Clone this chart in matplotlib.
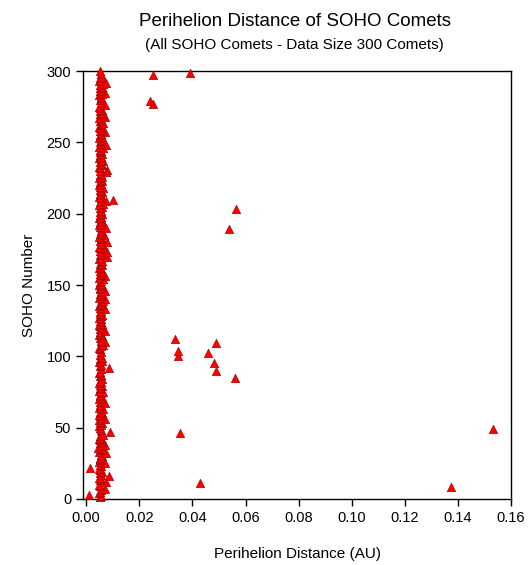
import matplotlib
matplotlib.use("Agg")
import matplotlib.pyplot as plt

plt.rcParams['font.family'] = ['Liberation Sans', 'DejaVu Sans']

# perihelion distance (AU) for SOHO numbers 1..300
perihelion = [
    0.0050, 0.0055, 0.0010, 0.0048, 0.0052, 0.0057, 0.0070, 0.1374, 0.0053, 0.0049,
    0.0428, 0.0075, 0.0051, 0.0056, 0.0047, 0.0085, 0.0054, 0.0050, 0.0058, 0.0052,
    0.0049, 0.0016, 0.0055, 0.0051, 0.0072, 0.0048, 0.0057, 0.0053, 0.0050, 0.0061,
    0.0054, 0.0075, 0.0049, 0.0052, 0.0058, 0.0046, 0.0055, 0.0072, 0.0051, 0.0059,
    0.0053, 0.0048, 0.0056, 0.0050, 0.0062, 0.0355, 0.0090, 0.0054, 0.1533, 0.0051,
    0.0047, 0.0055, 0.0060, 0.0052, 0.0049, 0.0070, 0.0056, 0.0053, 0.0048, 0.0058,
    0.0051, 0.0054, 0.0062, 0.0049, 0.0057, 0.0052, 0.0070, 0.0050, 0.0055, 0.0047,
    0.0059, 0.0053, 0.0050, 0.0056, 0.0064, 0.0048, 0.0054, 0.0051, 0.0058, 0.0052,
    0.0049, 0.0057, 0.0053, 0.0060, 0.0562, 0.0050, 0.0055, 0.0047, 0.0052, 0.0489,
    0.0056, 0.0085, 0.0051, 0.0054, 0.0480, 0.0049, 0.0058, 0.0053, 0.0061, 0.0345,
    0.0050, 0.0458, 0.0055, 0.0345, 0.0052, 0.0048, 0.0057, 0.0063, 0.0489, 0.0070,
    0.0054, 0.0335, 0.0051, 0.0059, 0.0047, 0.0056, 0.0053, 0.0072, 0.0050, 0.0058,
    0.0052, 0.0049, 0.0061, 0.0055, 0.0051, 0.0057, 0.0048, 0.0054, 0.0060, 0.0052,
    0.0050, 0.0056, 0.0070, 0.0053, 0.0047, 0.0059, 0.0051, 0.0055, 0.0062, 0.0072,
    0.0049, 0.0054, 0.0058, 0.0052, 0.0056, 0.0070, 0.0050, 0.0053, 0.0060, 0.0048,
    0.0055, 0.0051, 0.0057, 0.0063, 0.0049, 0.0072, 0.0054, 0.0052, 0.0058, 0.0050,
    0.0056, 0.0047, 0.0053, 0.0061, 0.0051, 0.0055, 0.0059, 0.0048, 0.0054, 0.0080,
    0.0052, 0.0057, 0.0080, 0.0050, 0.0062, 0.0053, 0.0049, 0.0065, 0.0056, 0.0077,
    0.0051, 0.0058, 0.0054, 0.0047, 0.0068, 0.0052, 0.0060, 0.0055, 0.0537, 0.0075,
    0.0053, 0.0049, 0.0057, 0.0051, 0.0061, 0.0054, 0.0048, 0.0056, 0.0052, 0.0059,
    0.0050, 0.0055, 0.0565, 0.0053, 0.0058, 0.0047, 0.0062, 0.0051, 0.0073, 0.0102,
    0.0054, 0.0049, 0.0057, 0.0052, 0.0060, 0.0055, 0.0050, 0.0063, 0.0053, 0.0048,
    0.0056, 0.0051, 0.0059, 0.0054, 0.0047, 0.0061, 0.0052, 0.0057, 0.0075, 0.0050,
    0.0077, 0.0053, 0.0049, 0.0058, 0.0055, 0.0051, 0.0062, 0.0054, 0.0048, 0.0056,
    0.0052, 0.0060, 0.0050, 0.0057, 0.0053, 0.0064, 0.0049, 0.0075, 0.0055, 0.0051,
    0.0058, 0.0054, 0.0047, 0.0061, 0.0052, 0.0056, 0.0070, 0.0050, 0.0059, 0.0053,
    0.0049, 0.0057, 0.0055, 0.0062, 0.0051, 0.0054, 0.0048, 0.0070, 0.0058, 0.0052,
    0.0056, 0.0050, 0.0060, 0.0053, 0.0049, 0.0072, 0.0250, 0.0055, 0.0242, 0.0051,
    0.0057, 0.0054, 0.0048, 0.0061, 0.0070, 0.0052, 0.0056, 0.0050, 0.0059, 0.0053,
    0.0062, 0.0075, 0.0049, 0.0055, 0.0051, 0.0058, 0.0253, 0.0054, 0.0389, 0.0052,
]
soho_number = list(range(1, len(perihelion) + 1))

# blue reference line hidden behind the cluster
ref_line_x = 0.0045

x_ticks = [0.00, 0.02, 0.04, 0.06, 0.08, 0.10, 0.12, 0.14, 0.16]
y_ticks = [0, 50, 100, 150, 200, 250, 300]

fig = plt.figure(figsize=(5.29, 5.65), dpi=100)
ax = fig.add_axes([0.157, 0.117, 0.809, 0.757])

ax.plot([ref_line_x, ref_line_x], [0, 300], color='blue', lw=1, zorder=1)
ax.scatter(perihelion, soho_number, marker='^', s=36, facecolor='#ff0000',
           edgecolor='#b00000', linewidths=0.5, zorder=3, clip_on=False)

ax.set_xlim(-0.0012, 0.16)
ax.set_ylim(0, 300)
ax.set_xticks(x_ticks)
ax.set_xticklabels([f"{t:.2f}" for t in x_ticks])
ax.set_yticks(y_ticks)
ax.tick_params(direction='out', length=5, width=1, labelsize=10.5, colors='black',
               top=False, right=False)
for sp in ax.spines.values():
    sp.set_linewidth(1)

ax.set_xlabel("Perihelion Distance (AU)", fontsize=11, labelpad=16)
ax.set_ylabel("SOHO Number", fontsize=11, labelpad=8)

fig.text(0.557, 0.962, "Perihelion Distance of SOHO Comets", ha='center', va='center', fontsize=13.5)
fig.text(0.557, 0.921, "(All SOHO Comets - Data Size 300 Comets)", ha='center', va='center', fontsize=11)

fig.savefig("out.png", dpi=100)
